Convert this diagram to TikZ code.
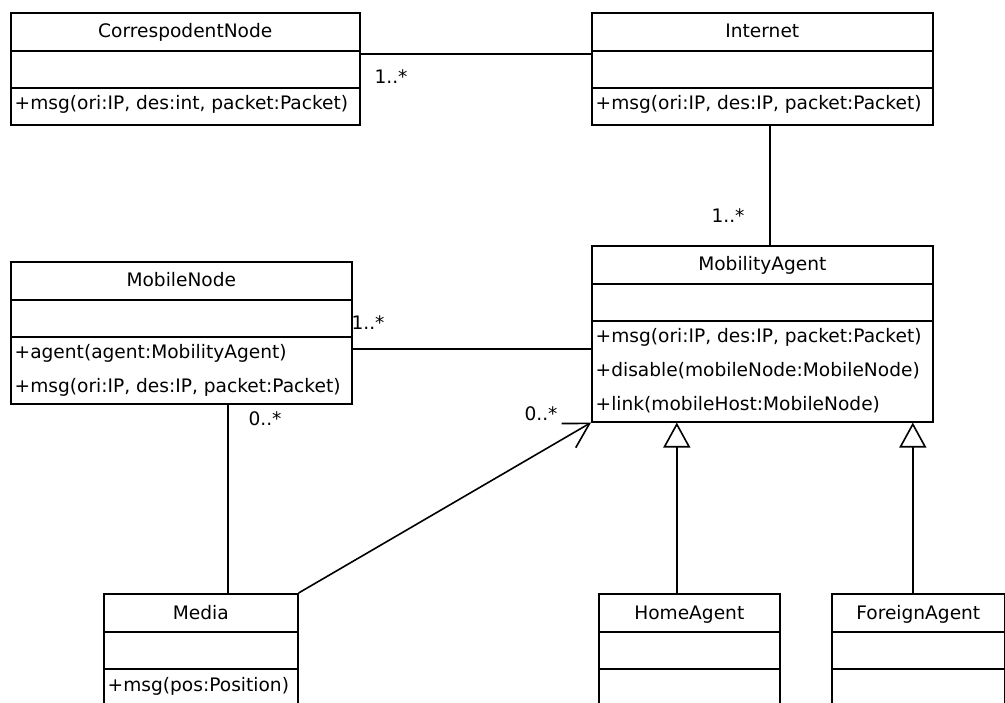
\documentclass[tikz,border=0pt]{standalone}
\usepackage{fontspec}
\setmainfont{DejaVu Sans}
\usetikzlibrary{calc,arrows.meta}

% one UML class: name, x, y, width, height, title
\newcommand\umlcls[6]{%
  \node[clsbox, minimum width=#4pt, minimum height=#5pt] (#1) at (#2,#3) {};
  \draw[clsline] ($(#1.north west)+(0,39)$) -- ($(#1.north east)+(0,39)$);
  \draw[clsline] ($(#1.north west)+(0,76)$) -- ($(#1.north east)+(0,76)$);
  \node[ctitle] at ($(#1.north)+(0,26)$) {#6};
}
% n-th operation line of a class
\newcommand\umlop[3]{%
  \node[cop] at ($(#1.north west)+(4.5,{98+(#2-1)*34})$) {#3};
}

\begin{document}
\begin{tikzpicture}[x=1pt,y=-1pt,
  font=\fontsize{18.6}{20}\selectfont,
  clsbox/.style={draw, line width=1.6pt, anchor=north west, inner sep=0pt, fill=white},
  clsline/.style={line width=1.6pt},
  ctitle/.style={anchor=base, inner sep=0pt},
  cop/.style={anchor=base west, inner sep=0pt},
  conn/.style={line width=1.6pt},
  mult/.style={inner sep=0pt, anchor=center},
  gen/.style={conn, -{Triangle[open, length=25pt, width=27pt, line width=1.6pt]}},
  nav/.style={conn, -{Straight Barb[angle=60:28pt, line width=1.6pt]}}
]
\fill[white] (0,0) rectangle (1005,703);
\clip (0,0) rectangle (1005,703);

% classes
\umlcls{cn}{10}{12}{349}{112}{CorrespodentNode}
\umlop{cn}{1}{+msg(ori:IP, des:int, packet:Packet)}

\umlcls{inet}{591}{12}{341}{112}{Internet}
\umlop{inet}{1}{+msg(ori:IP, des:IP, packet:Packet)}

\umlcls{ma}{591}{245}{341}{176}{MobilityAgent}
\umlop{ma}{1}{+msg(ori:IP, des:IP, packet:Packet)}
\umlop{ma}{2}{+disable(mobileNode:MobileNode)}
\umlop{ma}{3}{+link(mobileHost:MobileNode)}

\umlcls{mn}{10}{261}{341}{142}{MobileNode}
\umlop{mn}{1}{+agent(agent:MobilityAgent)}
\umlop{mn}{2}{+msg(ori:IP, des:IP, packet:Packet)}

\umlcls{media}{103}{593}{194}{130}{Media}
\umlop{media}{1}{+msg(pos:Position)}

\umlcls{ha}{598}{593}{181}{130}{HomeAgent}
\umlcls{fa}{831}{593}{173}{130}{ForeignAgent}

% associations
\coordinate (cnA) at ($(cn.north east)+(0,42)$);
\draw[conn] (cnA) -- (cnA -| inet.west);

\coordinate (inA) at ($(inet.south)+(7.5,0)$);
\draw[conn] (inA) -- (inA |- ma.north);

\coordinate (mnA) at ($(mn.north east)+(0,88)$);
\draw[conn] (mnA) -- (mnA -| ma.west);

\coordinate (mdA) at ($(mn.south)+(46.5,0)$);
\draw[conn] (mdA) -- (mdA |- media.north);

\draw[nav] (media.north east) -- (ma.south west);

% generalizations
\coordinate (haA) at ($(ha.north)+(-12.5,0)$);
\draw[gen] (haA) -- (haA |- ma.south);
\coordinate (faA) at ($(fa.north)+(-5.5,0)$);
\draw[gen] (faA) -- (faA |- ma.south);

% multiplicities
\node[mult] (m1) at (391,77) {1..*};
\node[mult] (m2) at (728,216) {1..*};
\node[mult] (m3) at (368,323) {1..*};
\node[mult] (m4) at (265,419) {0..*};
\node[mult] (m5) at (541,414) {0..*};
\end{tikzpicture}
\end{document}
